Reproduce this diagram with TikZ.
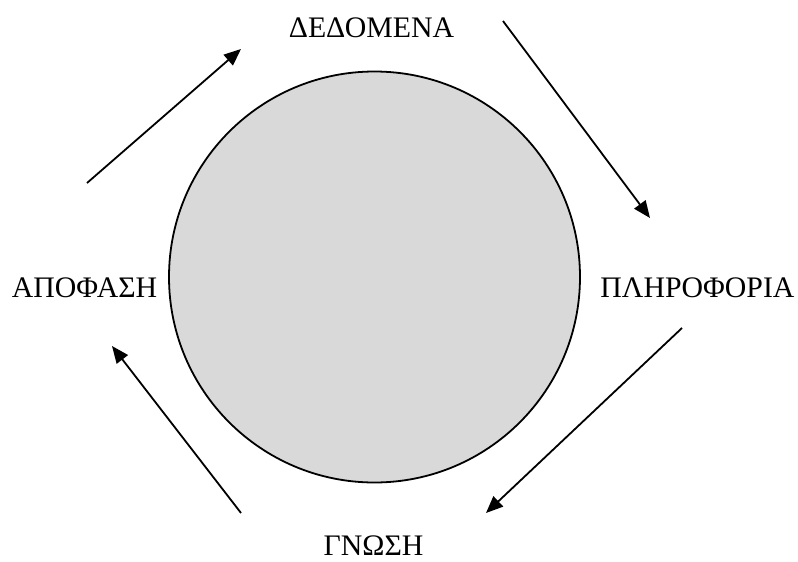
\documentclass[tikz,border=0pt]{standalone}
\usepackage{fontspec}
\setmainfont{Liberation Serif}
\usetikzlibrary{arrows.meta}
\begin{document}
\begin{tikzpicture}[x=1pt,y=-1pt,
  lbl/.style={font=\fontsize{29.8}{36}\selectfont, inner sep=0pt, anchor=base},
  flow/.style={line width=1.8pt, -{Triangle[length=17pt,width=14pt]}}]
\useasboundingbox (0,0) rectangle (798,562);
\node[circle, draw, line width=1.8pt, fill={rgb,255:red,217;green,217;blue,217}, minimum size=411pt, inner sep=0pt] (c) at (374.5,277) {};
\node[lbl] (d) at (371.5,37) {ΔΕΔΟΜΕΝΑ};
\node[lbl] (p) at (697.5,297) {ΠΛΗΡΟΦΟΡΙΑ};
\node[lbl] (g) at (373.5,555) {ΓΝΩΣΗ};
\node[lbl] (a) at (84.5,297) {ΑΠΟΦΑΣΗ};
\coordinate (a1s) at (87,183); \coordinate (a1e) at (241,49);
\coordinate (a2s) at (503,21); \coordinate (a2e) at (650,218);
\coordinate (a3s) at (682,328); \coordinate (a3e) at (486,513);
\coordinate (a4s) at (241,513); \coordinate (a4e) at (112,346);
\draw[flow] (a1s) -- (a1e);
\draw[flow] (a2s) -- (a2e);
\draw[flow] (a3s) -- (a3e);
\draw[flow] (a4s) -- (a4e);
\end{tikzpicture}
\end{document}
